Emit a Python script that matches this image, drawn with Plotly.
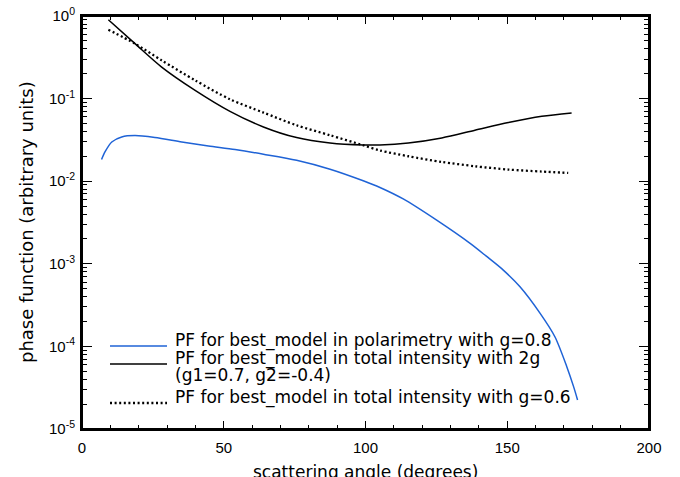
import plotly.graph_objects as go

# Data (angle in degrees, log10 of phase function)
blue_x = [6.9, 8.1, 10.5, 14.0, 18.7, 25.7, 35.2, 44.6, 54.0, 64.0, 75.7, 87.5, 99.2, 105.1,
          113.3, 125.1, 136.9, 142.5, 148.6, 154.5, 161.6, 166.8, 171.0, 173.4, 174.8]
blue_log = [-1.738, -1.646, -1.525, -1.464, -1.448, -1.472, -1.525, -1.573, -1.617, -1.673, -1.746,
            -1.855, -1.995, -2.076, -2.215, -2.472, -2.753, -2.905, -3.076, -3.278, -3.6, -3.883,
            -4.245, -4.487, -4.648]

solid_x = [9.3, 18.7, 28.1, 39.9, 52.2, 64.0, 75.7, 87.5, 99.2, 105.1, 115.1, 126.9, 138.6,
           150.4, 162.2, 172.7]
solid_log = [-0.045, -0.335, -0.618, -0.900, -1.154, -1.343, -1.472, -1.537, -1.561, -1.561,
             -1.537, -1.476, -1.383, -1.29, -1.214, -1.174]

dot_x = [9.3, 18.7, 28.1, 39.9, 52.2, 64.0, 75.7, 87.5, 99.2, 105.1, 115.1, 126.9, 138.6,
         150.4, 162.2, 171.5]
dot_log = [-0.166, -0.335, -0.537, -0.779, -1.008, -1.169, -1.323, -1.444, -1.565, -1.628,
           -1.698, -1.767, -1.819, -1.859, -1.883, -1.9]

legend_labels = [
    "PF for best_model in polarimetry with g=0.8",
    "PF for best_model in total intensity with 2g",
    "PF for best_model in total intensity with g=0.6",
]
legend_extra = "(g1=0.7, g2=-0.4)"

x_ticks = [0, 50, 100, 150, 200]
y_tick_exps = [-5, -4, -3, -2, -1, 0]

x_title = "scattering angle (degrees)"
y_title = "phase function (arbitrary units)"

blue_y = [10 ** v for v in blue_log]
solid_y = [10 ** v for v in solid_log]
dot_y = [10 ** v for v in dot_log]

BLUE = "#1f63d6"
TICKFONT = "Liberation Sans, Arial, sans-serif"
TEXTFONT = "DejaVu Sans, sans-serif"
DOTDASH = "2px,2.6px"
SMOOTH = 0.8

fig = go.Figure()
fig.add_trace(go.Scatter(x=blue_x, y=blue_y, mode="lines",
                         line=dict(color=BLUE, width=1.5, shape="spline", smoothing=SMOOTH)))
fig.add_trace(go.Scatter(x=solid_x, y=solid_y, mode="lines",
                         line=dict(color="black", width=1.5, shape="spline", smoothing=SMOOTH)))
fig.add_trace(go.Scatter(x=dot_x, y=dot_y, mode="lines",
                         line=dict(color="black", width=2.3, shape="spline", smoothing=SMOOTH,
                                   dash=DOTDASH)))

# plot area geometry in pixels
L, R, T, B = 82, 649, 16, 429
W, H = R - L, B - T


def px(xp):
    return (xp - L) / W


def py(yp):
    return (B - yp) / H


# frame around the plot area
fig.add_shape(type="rect", xref="paper", yref="paper", x0=0, x1=1, y0=0, y1=1,
              line=dict(color="black", width=2), layer="above")

# custom legend (IDL style)
leg_line_y = [346, 364, 403]
leg_text_y = [340, 358, 397]
leg_styles = [dict(color=BLUE, width=1.5), dict(color="black", width=1.5),
              dict(color="black", width=2.3, dash=DOTDASH)]
for lbl, ly, ty, st in zip(legend_labels, leg_line_y, leg_text_y, leg_styles):
    fig.add_shape(type="line", xref="paper", yref="paper",
                  x0=px(110), x1=px(167), y0=py(ly), y1=py(ly), line=st)
    fig.add_annotation(xref="paper", yref="paper", x=px(173), y=py(ty),
                       text=lbl, showarrow=False, xanchor="left", yanchor="middle",
                       align="left", font=dict(family=TEXTFONT, size=17, color="black"))
fig.add_annotation(xref="paper", yref="paper", x=px(173), y=py(375),
                   text=legend_extra, showarrow=False, xanchor="left", yanchor="middle",
                   align="left", font=dict(family=TEXTFONT, size=17, color="black"))

# axis titles
fig.add_annotation(xref="paper", yref="paper", x=0.5, y=py(472), text=x_title,
                   showarrow=False, xanchor="center", yanchor="middle",
                   font=dict(family=TEXTFONT, size=17, color="black"))
fig.add_annotation(xref="paper", yref="paper", x=px(26), y=py(222), text=y_title,
                   showarrow=False, xanchor="center", yanchor="middle", textangle=-90,
                   font=dict(family=TEXTFONT, size=18, color="black"))

axis_common = dict(
    showline=True, linecolor="black", linewidth=2, mirror="allticks",
    ticks="inside", tickcolor="black", tickwidth=1.3,
    showgrid=False, zeroline=False, automargin=False,
    tickfont=dict(family=TICKFONT, size=15, color="black"),
)

fig.update_xaxes(
    range=[0, 200], tickvals=x_ticks, ticktext=[str(v) for v in x_ticks], ticklen=8,
    minor=dict(tickvals=list(range(10, 200, 10)), ticks="inside", ticklen=4,
               tickcolor="black", tickwidth=1.3, showgrid=False),
    ticklabelstandoff=4,
    **axis_common,
)
fig.update_yaxes(
    type="log", range=[-5, 0],
    tickvals=[10 ** e for e in y_tick_exps],
    ticktext=["10<sup>%d</sup>" % e for e in y_tick_exps], ticklen=10,
    minor=dict(ticks="inside", ticklen=5, tickcolor="black", tickwidth=1.3,
               showgrid=False, dtick="D1"),
    ticklabelstandoff=2,
    **axis_common,
)

fig.update_layout(
    width=680, height=477,
    margin=dict(l=L, r=680 - R, t=T, b=477 - B),
    paper_bgcolor="white", plot_bgcolor="white",
    showlegend=False,
    font=dict(family=TICKFONT, color="black"),
)

fig.write_html("out.html")
